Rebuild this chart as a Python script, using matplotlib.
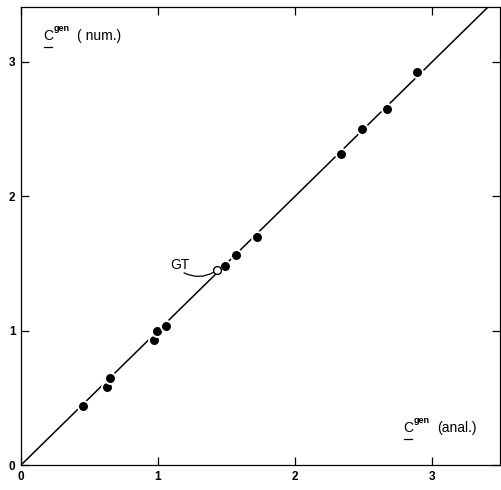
import matplotlib
matplotlib.use("Agg")
import matplotlib.pyplot as plt
import numpy as np

# C_gen analytical vs numerical
c_anal = [0.453, 0.628, 0.650, 0.971, 0.993, 1.058, 1.489, 1.569, 1.723,
          2.336, 2.489, 2.672, 2.891]
c_num = [0.439, 0.581, 0.648, 0.931, 0.998, 1.035, 1.482, 1.564, 1.698,
         2.316, 2.502, 2.651, 2.926]
gt_point = (1.431, 1.452)
ticks = [0, 1, 2, 3]

plt.rcParams['font.family'] = ['Liberation Sans', 'DejaVu Sans']

fig = plt.figure(figsize=(5.01, 4.90), dpi=100)
ax = fig.add_axes([0.042, 0.051, 0.956, 0.935])

# reference line y = x
line = np.array([0, 3.6])
ax.plot(line, line, color='black', lw=1.1, zorder=1)

ax.scatter(c_anal, c_num, s=62, color='black', edgecolors='white',
           linewidths=1.4, zorder=3)
ax.scatter([gt_point[0]], [gt_point[1]], s=32, facecolors='white',
           edgecolors='black', linewidths=1.0, zorder=4)

ax.text(1.16, 1.49, 'GT', fontsize=10, ha='center', va='center')
ax.annotate('', xy=gt_point, xytext=(1.19, 1.43),
            arrowprops=dict(arrowstyle='-', lw=0.9, color='black',
                            shrinkA=0, shrinkB=3,
                            connectionstyle='arc3,rad=0.3'))


def axis_label(x, y, rest):
    # C with an underbar and superscript "gen"
    ax.text(x, y, 'C', fontsize=10, ha='left', va='center')
    ax.plot([x + 0.005, x + 0.065], [y - 0.08, y - 0.08], color='black',
            lw=0.9)
    ax.text(x + 0.075, y + 0.06, 'gen', fontsize=6.5, ha='left',
            va='center', fontweight='bold')
    ax.text(x + 0.25, y, rest, fontsize=10, ha='left', va='center')


axis_label(0.16, 3.19, '( num.)')
axis_label(2.79, 0.275, '(anal.)')

ax.set_xlim(0, 3.496)
ax.set_ylim(0, 3.41)
ax.set_xticks(ticks)
ax.set_yticks(ticks)
ax.set_xticklabels([str(t) for t in ticks], fontweight='bold', fontsize=8.5)
ax.set_yticklabels([str(t) for t in ticks], fontweight='bold', fontsize=8.5)
ax.tick_params(direction='in', length=6, width=0.9, top=True, right=True,
               pad=4)
for s in ax.spines.values():
    s.set_linewidth(0.9)

fig.savefig('out.png', dpi=100)
